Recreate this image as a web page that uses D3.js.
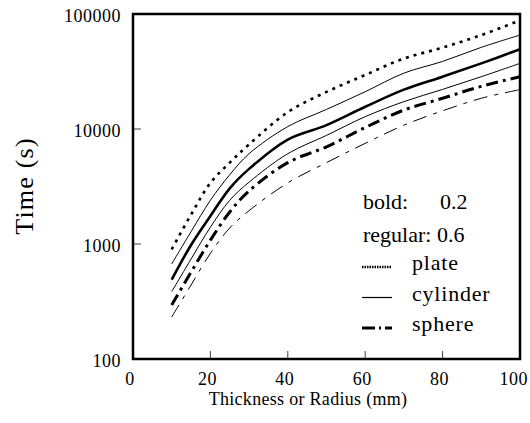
<!DOCTYPE html>
<html>
<head>
<meta charset="utf-8">
<script src="https://cdn.jsdelivr.net/npm/d3@7"></script>
<style>
  body { margin: 0; background: #fff; }
  text { font-family: "Liberation Serif", "Times New Roman", serif; fill: #000; }
</style>
</head>
<body>
<svg id="chart"></svg>
<script>
// thickness / radius (mm)
const xs = [10, 15, 20, 25, 30, 40, 50, 60, 70, 80, 90, 100];
// time (s)
const plateBold = [900, 1800, 3400, 5100, 7350, 14000, 21000, 29500, 41000, 51000, 65600, 88000];
const plateReg = [670, 1280, 2400, 4000, 6100, 10500, 14800, 21100, 30600, 38700, 51300, 65600];
const cylBold = [490, 980, 1750, 3050, 4500, 8100, 10800, 15600, 22000, 28500, 37200, 49300];
const cylReg = [385, 740, 1400, 2400, 3450, 6100, 8800, 12800, 17300, 22100, 28500, 37200];
const sphBold = [295, 570, 1080, 1900, 2900, 5100, 7000, 10300, 14600, 18500, 23500, 28500];
const sphReg = [232, 440, 830, 1380, 1950, 3400, 5100, 7500, 10800, 14400, 18500, 22000];

const xTicks = [0, 20, 40, 60, 80, 100];
const yTicks = [100, 1000, 10000, 100000];
const legendNames = ["plate", "cylinder", "sphere"];

const svg = d3.select("#chart")
    .attr("width", 530)
    .attr("height", 423);

const plotLeft = 133, plotRight = 520, plotTop = 14, plotBottom = 359;

const x = d3.scaleLinear().domain([0, 100]).range([plotLeft, plotRight]);
const y = d3.scaleLog().domain([100, 100000]).range([plotBottom, plotTop]);

// series styles: width + dash pattern
const series = [
    { v: plateBold, w: 2.6, dash: "3,5" },
    { v: plateReg, w: 1, dash: null },
    { v: cylBold, w: 2.6, dash: null },
    { v: cylReg, w: 1, dash: null },
    { v: sphBold, w: 3, dash: "12,5,3,5" },
    { v: sphReg, w: 1, dash: "14,7,4,7" }
];

const line = d3.line()
    .x((d, i) => x(xs[i]))
    .y(d => y(d))
    .curve(d3.curveCatmullRom.alpha(0.5));

series.forEach(s => {
    svg.append("path")
        .attr("d", line(s.v))
        .attr("fill", "none")
        .attr("stroke", "#000")
        .attr("stroke-width", s.w)
        .attr("stroke-dasharray", s.dash);
});

// inner ticks
svg.selectAll(".xt")
    .data(xTicks.slice(1, -1))
    .enter().append("line")
    .attr("x1", d => x(d)).attr("x2", d => x(d))
    .attr("y1", plotBottom).attr("y2", plotBottom - 8)
    .attr("stroke", "#444").attr("stroke-width", 1);

svg.selectAll(".yt")
    .data(yTicks.slice(1, -1))
    .enter().append("line")
    .attr("x1", plotLeft).attr("x2", plotLeft + 8)
    .attr("y1", d => y(d)).attr("y2", d => y(d))
    .attr("stroke", "#444").attr("stroke-width", 1);

// frame
svg.append("rect")
    .attr("x", plotLeft).attr("y", plotTop)
    .attr("width", plotRight - plotLeft).attr("height", plotBottom - plotTop)
    .attr("fill", "none").attr("stroke", "#000").attr("stroke-width", 2.5);

// tick labels
svg.selectAll(".xl")
    .data(xTicks)
    .enter().append("text")
    .attr("x", d => d === 100 ? 528 : x(d) - 3)
    .attr("y", 385)
    .attr("text-anchor", d => d === 100 ? "end" : "middle")
    .attr("font-size", 18)
    .attr("letter-spacing", 0.5)
    .text(d => d);

svg.selectAll(".yl")
    .data(yTicks)
    .enter().append("text")
    .attr("x", 121)
    .attr("y", d => y(d) + 8)
    .attr("text-anchor", "end")
    .attr("font-size", 18)
    .attr("letter-spacing", 0.5)
    .text(d => d);

// axis titles
svg.append("text")
    .attr("x", 308).attr("y", 405)
    .attr("text-anchor", "middle")
    .attr("font-size", 18)
    .attr("letter-spacing", 0.3)
    .text("Thickness or Radius (mm)");

svg.append("text")
    .attr("transform", "translate(33,186) rotate(-90)")
    .attr("text-anchor", "middle")
    .attr("font-size", 26)
    .attr("letter-spacing", 1.2)
    .text("Time (s)");

// legend
const lg = svg.append("g").attr("font-size", 22);
lg.append("text").attr("x", 363).attr("y", 209).text("bold:");
lg.append("text").attr("x", 440).attr("y", 209).text("0.2");
lg.append("text").attr("x", 363).attr("y", 242).text("regular: 0.6");

const legendStyles = [
    { w: 2.6, dash: "1.5,1" },
    { w: 1.2, dash: null },
    { w: 3, dash: "13,4,2,4" }
];
legendNames.forEach((name, i) => {
    const by = 270 + i * 30.5;
    lg.append("line")
        .attr("x1", 362).attr("x2", 392)
        .attr("y1", by - 3).attr("y2", by - 3)
        .attr("stroke", "#000")
        .attr("stroke-width", legendStyles[i].w)
        .attr("stroke-dasharray", legendStyles[i].dash);
    lg.append("text")
        .attr("x", 412).attr("y", by)
        .attr("letter-spacing", 0.8)
        .text(name);
});
</script>
</body>
</html>
